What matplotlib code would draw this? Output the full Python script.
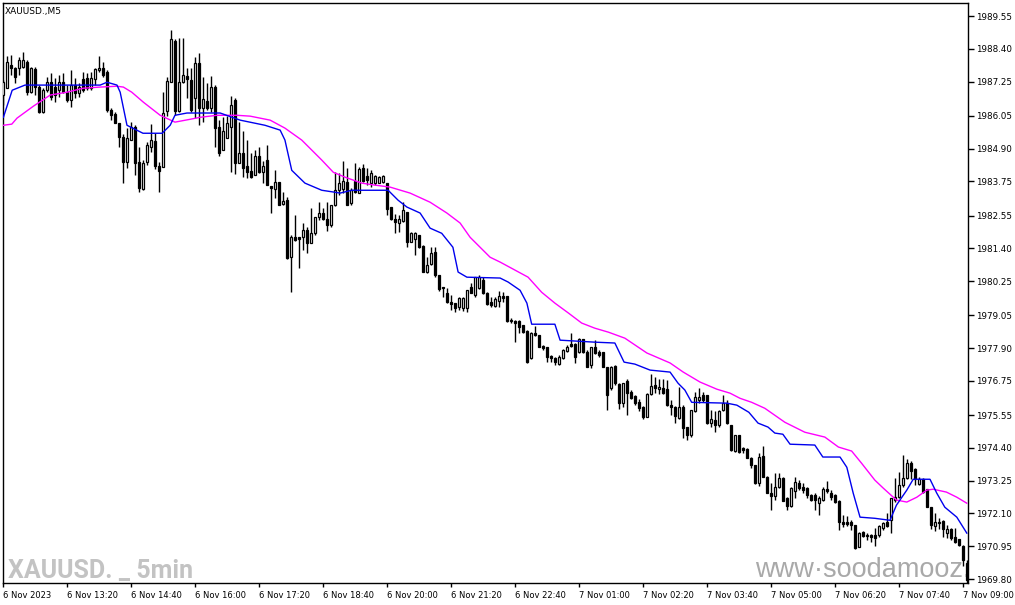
import numpy as np
import matplotlib
matplotlib.use('Agg')
import matplotlib.pyplot as plt

# XAUUSD M5 candles, 6 Nov 12:00 -> 7 Nov 09:05
opens = [1986.78, 1987.02, 1987.83, 1987.72, 1987.72, 1987.76, 1987.93, 1986.88, 1987.69, 1987.06,
         1986.18, 1986.95, 1987.23, 1987.06, 1986.95, 1987.23, 1986.88, 1986.60, 1987.13, 1986.85,
         1987.34, 1987.37, 1987.02, 1987.34, 1987.65, 1987.72, 1987.58, 1986.25, 1986.11, 1985.80,
         1985.30, 1984.43, 1985.20, 1985.65, 1984.43, 1983.48, 1984.43, 1984.95, 1985.16, 1984.29,
         1984.25, 1986.22, 1987.23, 1988.67, 1986.22, 1987.23, 1987.44, 1987.30, 1986.67, 1987.90,
         1986.32, 1986.57, 1986.32, 1987.06, 1985.65, 1984.85, 1985.27, 1985.65, 1986.60, 1984.39,
         1984.74, 1984.29, 1984.11, 1983.97, 1984.64, 1984.07, 1984.50, 1983.58, 1983.48, 1983.72,
         1982.95, 1983.09, 1981.09, 1981.79, 1981.79, 1981.79, 1982.04, 1981.58, 1981.93, 1982.50,
         1982.64, 1982.43, 1982.22, 1982.92, 1983.44, 1983.48, 1983.72, 1982.99, 1983.76, 1983.34,
         1984.21, 1983.93, 1983.69, 1983.69, 1983.69, 1983.72, 1983.69, 1982.85, 1982.43, 1982.29,
         1982.36, 1982.67, 1981.62, 1981.72, 1981.86, 1981.48, 1980.57, 1980.85, 1981.27, 1980.46,
         1980.04, 1979.83, 1979.51, 1979.48, 1979.34, 1979.30, 1979.30, 1980.04, 1979.76, 1980.01,
         1980.29, 1979.83, 1979.51, 1979.37, 1979.55, 1979.72, 1979.72, 1978.85, 1978.85, 1978.85,
         1978.71, 1978.50, 1977.55, 1978.43, 1978.36, 1977.97, 1977.94, 1977.62, 1977.55, 1977.34,
         1977.55, 1977.80, 1978.04, 1978.04, 1977.76, 1978.22, 1977.76, 1977.31, 1977.94, 1977.76,
         1977.76, 1977.24, 1976.50, 1977.27, 1976.64, 1975.97, 1976.74, 1976.36, 1976.22, 1976.00,
         1975.83, 1975.48, 1976.29, 1976.60, 1976.46, 1976.50, 1976.46, 1975.90, 1975.83, 1975.44,
         1975.83, 1975.13, 1974.85, 1975.69, 1976.07, 1976.25, 1976.25, 1975.27, 1975.37, 1975.20,
         1975.72, 1975.97, 1975.20, 1974.29, 1974.85, 1974.39, 1974.36, 1974.04, 1973.79, 1973.16,
         1974.11, 1973.37, 1972.81, 1972.71, 1973.02, 1973.34, 1972.64, 1972.36, 1972.88, 1973.16,
         1973.02, 1972.99, 1972.74, 1972.74, 1972.46, 1972.57, 1972.95, 1972.81, 1972.74, 1972.53,
         1971.79, 1971.79, 1971.79, 1971.69, 1970.92, 1971.44, 1971.34, 1971.34, 1971.34, 1971.34,
         1971.58, 1971.79, 1971.86, 1972.57, 1972.67, 1973.09, 1973.34, 1973.86, 1973.65, 1973.13,
         1973.30, 1972.95, 1972.32, 1971.65, 1971.79, 1971.83, 1971.41, 1971.55, 1971.27, 1971.20,
         1970.95, 1970.36]
highs = [1987.30, 1988.15, 1988.19, 1987.76, 1988.12, 1988.29, 1988.00, 1987.76, 1987.76, 1987.13,
         1987.02, 1987.41, 1987.55, 1987.37, 1987.48, 1987.55, 1987.13, 1987.65, 1987.37, 1987.20,
         1987.58, 1987.55, 1987.58, 1987.72, 1988.15, 1987.93, 1987.65, 1986.32, 1986.18, 1985.80,
         1985.41, 1985.62, 1985.83, 1985.72, 1984.95, 1984.50, 1985.13, 1985.76, 1985.44, 1984.43,
         1986.88, 1987.41, 1989.06, 1988.74, 1988.78, 1988.78, 1987.72, 1987.72, 1988.12, 1988.25,
         1987.41, 1987.20, 1987.44, 1987.13, 1985.90, 1986.00, 1986.04, 1986.74, 1986.67, 1985.83,
         1985.51, 1985.20, 1984.74, 1984.85, 1984.95, 1984.46, 1985.02, 1983.58, 1984.14, 1983.72,
         1983.37, 1983.20, 1981.86, 1982.57, 1981.79, 1982.29, 1982.15, 1982.81, 1982.50, 1983.02,
         1982.81, 1983.02, 1982.92, 1984.07, 1984.04, 1984.46, 1984.21, 1983.51, 1984.39, 1984.25,
         1984.36, 1984.21, 1984.14, 1983.97, 1983.93, 1983.97, 1983.69, 1982.85, 1982.60, 1982.57,
         1983.02, 1982.67, 1981.97, 1981.97, 1981.86, 1981.51, 1981.09, 1981.44, 1981.44, 1980.46,
         1980.04, 1980.01, 1979.76, 1979.48, 1979.69, 1979.69, 1979.93, 1980.18, 1980.39, 1980.46,
         1980.39, 1979.86, 1979.69, 1979.69, 1979.90, 1979.86, 1979.72, 1978.95, 1978.88, 1978.88,
         1978.71, 1978.53, 1978.46, 1978.67, 1978.36, 1978.01, 1977.94, 1977.66, 1977.59, 1977.66,
         1977.87, 1978.01, 1978.43, 1978.08, 1978.25, 1978.22, 1977.83, 1977.94, 1978.18, 1977.83,
         1977.76, 1977.24, 1977.27, 1977.31, 1976.67, 1976.67, 1976.81, 1976.43, 1976.25, 1976.11,
         1975.86, 1976.32, 1976.99, 1976.88, 1976.81, 1976.81, 1976.78, 1976.07, 1975.86, 1976.53,
         1975.90, 1975.13, 1975.72, 1976.36, 1976.50, 1976.36, 1976.25, 1975.72, 1975.69, 1975.72,
         1976.25, 1976.07, 1975.20, 1974.85, 1974.85, 1974.43, 1974.39, 1974.08, 1973.79, 1974.22,
         1974.46, 1973.41, 1973.16, 1973.51, 1973.51, 1973.37, 1972.67, 1973.02, 1973.37, 1973.27,
         1973.16, 1973.02, 1972.78, 1972.81, 1972.71, 1973.02, 1973.23, 1972.92, 1972.78, 1972.57,
         1972.04, 1972.00, 1971.86, 1971.69, 1971.44, 1971.48, 1971.41, 1971.37, 1971.58, 1971.69,
         1971.79, 1972.11, 1972.64, 1973.34, 1973.55, 1974.15, 1974.01, 1973.93, 1973.69, 1973.37,
         1973.34, 1972.95, 1972.32, 1972.11, 1971.93, 1971.86, 1971.69, 1971.58, 1971.58, 1971.20,
         1970.99, 1970.46]
lows = [1986.43, 1987.02, 1987.48, 1987.20, 1987.48, 1987.72, 1986.78, 1986.85, 1986.78, 1986.15,
        1986.15, 1986.88, 1986.60, 1986.53, 1986.71, 1986.85, 1986.53, 1986.36, 1986.67, 1986.71,
        1986.88, 1986.95, 1986.95, 1987.13, 1987.58, 1987.41, 1986.18, 1985.90, 1985.80, 1984.95,
        1983.69, 1984.22, 1985.20, 1983.97, 1983.37, 1983.44, 1984.32, 1984.78, 1984.18, 1983.37,
        1984.25, 1986.04, 1987.23, 1986.07, 1986.18, 1987.20, 1986.67, 1986.18, 1985.97, 1985.72,
        1985.83, 1986.25, 1986.18, 1984.95, 1984.64, 1984.85, 1985.27, 1984.07, 1984.00, 1984.39,
        1983.90, 1983.86, 1983.86, 1983.97, 1984.04, 1983.69, 1983.62, 1982.64, 1983.16, 1982.92,
        1982.92, 1981.02, 1979.86, 1981.65, 1980.71, 1981.34, 1981.23, 1981.58, 1981.86, 1982.39,
        1982.39, 1982.00, 1982.15, 1982.88, 1983.27, 1983.34, 1982.92, 1982.92, 1983.34, 1983.34,
        1983.72, 1983.62, 1983.55, 1983.62, 1983.69, 1983.69, 1982.57, 1982.39, 1981.93, 1981.97,
        1982.32, 1981.44, 1981.62, 1981.16, 1981.41, 1980.57, 1980.53, 1980.81, 1980.39, 1979.90,
        1979.69, 1979.48, 1979.23, 1979.16, 1979.23, 1979.20, 1979.16, 1979.83, 1979.69, 1979.97,
        1979.79, 1979.41, 1979.34, 1979.34, 1979.34, 1979.51, 1978.81, 1978.78, 1978.11, 1978.43,
        1978.43, 1977.38, 1977.52, 1978.32, 1977.94, 1977.83, 1977.41, 1977.41, 1977.31, 1977.31,
        1977.52, 1977.76, 1977.94, 1977.38, 1977.73, 1977.73, 1977.24, 1977.20, 1977.69, 1977.59,
        1977.24, 1975.72, 1976.43, 1976.60, 1975.76, 1975.83, 1975.55, 1976.11, 1975.90, 1975.69,
        1975.41, 1975.48, 1976.25, 1976.32, 1976.29, 1976.29, 1975.86, 1975.55, 1975.27, 1975.41,
        1974.74, 1974.67, 1974.78, 1975.65, 1975.97, 1976.00, 1975.23, 1975.13, 1974.95, 1975.13,
        1975.69, 1975.23, 1974.29, 1974.25, 1974.22, 1974.22, 1974.04, 1973.69, 1973.13, 1973.06,
        1973.37, 1972.81, 1972.21, 1972.57, 1972.99, 1972.53, 1972.21, 1972.32, 1972.64, 1972.92,
        1972.81, 1972.64, 1972.53, 1972.21, 1972.04, 1972.53, 1972.81, 1972.57, 1972.46, 1971.51,
        1971.62, 1971.65, 1971.51, 1970.85, 1970.92, 1971.27, 1971.16, 1971.09, 1970.95, 1971.27,
        1971.51, 1971.62, 1971.41, 1972.50, 1972.64, 1973.02, 1973.30, 1973.30, 1973.09, 1973.09,
        1972.81, 1972.32, 1971.55, 1971.48, 1971.55, 1971.27, 1971.23, 1971.16, 1971.05, 1970.95,
        1970.25, 1969.66]
closes = [1987.23, 1987.93, 1987.72, 1987.41, 1988.00, 1988.00, 1986.88, 1987.72, 1987.06, 1986.18,
          1986.95, 1987.23, 1986.71, 1986.78, 1987.23, 1986.88, 1986.60, 1987.13, 1986.85, 1987.06,
          1986.95, 1987.02, 1987.37, 1987.69, 1987.72, 1987.48, 1986.25, 1986.07, 1985.80, 1985.30,
          1984.43, 1985.27, 1985.65, 1984.39, 1983.51, 1984.39, 1985.02, 1985.20, 1984.29, 1984.11,
          1986.15, 1987.27, 1988.74, 1986.22, 1987.23, 1987.48, 1987.34, 1986.25, 1987.90, 1986.32,
          1986.64, 1986.32, 1987.06, 1985.62, 1984.74, 1985.51, 1985.80, 1986.43, 1984.39, 1984.74,
          1984.22, 1984.07, 1983.90, 1984.64, 1984.07, 1984.29, 1983.62, 1983.51, 1983.72, 1982.92,
          1983.06, 1981.06, 1981.79, 1981.69, 1981.72, 1982.04, 1981.58, 1981.93, 1982.50, 1982.64,
          1982.43, 1982.22, 1982.92, 1983.44, 1983.69, 1983.76, 1982.92, 1983.44, 1983.37, 1984.18,
          1983.76, 1983.79, 1984.04, 1983.93, 1983.90, 1983.93, 1982.78, 1982.43, 1982.32, 1982.43,
          1982.74, 1981.62, 1981.93, 1981.93, 1981.44, 1980.57, 1980.81, 1981.23, 1980.46, 1979.97,
          1980.01, 1979.51, 1979.44, 1979.30, 1979.65, 1979.65, 1979.93, 1979.83, 1980.39, 1980.39,
          1979.83, 1979.44, 1979.41, 1979.62, 1979.72, 1979.65, 1978.85, 1978.88, 1978.78, 1978.64,
          1978.46, 1977.41, 1978.43, 1978.36, 1977.94, 1977.90, 1977.59, 1977.55, 1977.41, 1977.59,
          1977.83, 1977.94, 1977.97, 1977.59, 1978.22, 1977.76, 1977.24, 1977.94, 1977.73, 1977.66,
          1977.24, 1976.25, 1977.24, 1976.67, 1975.97, 1976.67, 1976.32, 1976.14, 1975.97, 1975.79,
          1975.48, 1976.29, 1976.57, 1976.50, 1976.53, 1976.32, 1975.90, 1975.83, 1975.51, 1975.83,
          1975.09, 1974.85, 1975.72, 1976.18, 1976.18, 1976.07, 1975.27, 1975.41, 1975.20, 1975.69,
          1975.97, 1975.27, 1974.32, 1974.85, 1974.25, 1974.32, 1974.04, 1973.79, 1973.16, 1974.08,
          1973.37, 1972.81, 1972.71, 1973.02, 1973.34, 1972.53, 1972.36, 1972.99, 1973.20, 1972.99,
          1972.92, 1972.74, 1972.57, 1972.57, 1972.64, 1972.95, 1972.88, 1972.67, 1972.50, 1971.79,
          1971.72, 1971.72, 1971.69, 1970.88, 1971.41, 1971.30, 1971.30, 1971.27, 1971.23, 1971.65,
          1971.76, 1971.65, 1972.64, 1972.67, 1973.09, 1973.34, 1973.86, 1973.58, 1973.30, 1973.30,
          1972.85, 1972.32, 1971.69, 1971.79, 1971.76, 1971.55, 1971.55, 1971.23, 1971.09, 1970.99,
          1970.46, 1969.76]

# moving average lines (bar index, price) read at their bends
fast_x = [0, 2.2, 5.4, 24.2, 25.9, 28.4, 29.2, 30.9, 34.9, 39.7, 41.7, 42.9, 45.9, 54.2, 59.2,
          65.4, 69.2, 70.4, 72.1, 75.4, 79.6, 82.9, 84.2, 87.1, 96.2, 98.7, 100.9, 104.2, 106.7,
          109.6, 112.4, 113.7, 115.9, 124.2, 126.2, 129.2, 130.9, 132.1, 137.9, 139.2, 147.9, 152.9,
          155.2, 157.9, 161.7, 166.7, 168.7, 170.4, 172.1, 180.9, 183.4, 186.4, 188.7, 191.2, 192.9,
          194.9, 196.7, 202.9, 204.9, 209.2, 210.9, 212.5, 214.2, 217.9, 221.7, 223.3, 225.9, 227.5,
          231.7, 233.4, 235.4, 238.4, 240.9]
fast_y = [1986.00, 1986.95, 1987.13, 1987.13, 1987.23, 1987.13, 1986.88, 1985.72, 1985.44, 1985.44,
          1985.72, 1986.07, 1986.15, 1986.15, 1985.90, 1985.72, 1985.55, 1985.20, 1984.14, 1983.69,
          1983.44, 1983.37, 1983.34, 1983.44, 1983.44, 1983.09, 1982.85, 1982.64, 1982.11, 1981.93,
          1981.44, 1980.57, 1980.39, 1980.36, 1980.22, 1979.93, 1979.48, 1978.74, 1978.74, 1978.18,
          1978.11, 1978.08, 1977.41, 1977.34, 1977.13, 1977.06, 1976.67, 1976.43, 1976.00, 1975.97,
          1975.90, 1975.65, 1975.27, 1975.13, 1974.92, 1974.88, 1974.53, 1974.50, 1974.08, 1974.08,
          1973.72, 1972.81, 1971.97, 1971.93, 1971.86, 1972.39, 1972.92, 1973.30, 1973.30, 1972.81,
          1972.32, 1971.97, 1971.41]
slow_x = [0, 2.1, 3.4, 7.5, 11.7, 15.9, 20.0, 24.2, 28.4, 30.0, 32.1, 35.0, 39.2, 42.9, 46.7,
          49.2, 53.4, 58.4, 61.7, 66.7, 70.4, 74.6, 79.6, 82.5, 85.4, 89.6, 92.9, 96.7, 101.7,
          106.7, 110.9, 114.2, 116.7, 119.2, 121.7, 124.2, 127.9, 131.2, 134.6, 137.9, 141.3, 144.6,
          147.9, 151.3, 155.4, 160.9, 166.7, 170.0, 174.2, 178.4, 181.7, 184.2, 187.1, 190.4, 195.4,
          200.4, 205.4, 208.8, 212.1, 214.6, 217.9, 220.0, 223.3, 225.9, 228.4, 230.9, 232.5, 235.8,
          238.4, 240.9]
slow_y = [1985.72, 1985.76, 1985.97, 1986.39, 1986.78, 1986.88, 1987.02, 1987.06, 1987.09, 1987.06,
          1986.88, 1986.53, 1986.07, 1985.83, 1985.93, 1986.00, 1986.07, 1986.07, 1986.04, 1985.90,
          1985.62, 1985.20, 1984.50, 1984.07, 1983.90, 1983.69, 1983.62, 1983.55, 1983.34, 1983.02,
          1982.64, 1982.29, 1981.79, 1981.44, 1981.09, 1980.92, 1980.64, 1980.39, 1979.86, 1979.48,
          1979.13, 1978.78, 1978.60, 1978.46, 1978.25, 1977.73, 1977.38, 1977.06, 1976.71, 1976.46,
          1976.32, 1976.14, 1976.00, 1975.79, 1975.30, 1974.95, 1974.78, 1974.43, 1974.29, 1973.86,
          1973.27, 1972.99, 1972.57, 1972.50, 1972.67, 1972.92, 1972.95, 1972.85, 1972.67, 1972.46]

price_ticks = [1989.55, 1988.40, 1987.25, 1986.05, 1984.90, 1983.75, 1982.55, 1981.40, 1980.25,
               1979.05, 1977.90, 1976.75, 1975.55, 1974.40, 1973.25, 1972.10, 1970.95, 1969.80]
time_labels = ['6 Nov 2023', '6 Nov 13:20', '6 Nov 14:40', '6 Nov 16:00', '6 Nov 17:20',
               '6 Nov 18:40', '6 Nov 20:00', '6 Nov 21:20', '6 Nov 22:40', '7 Nov 01:00',
               '7 Nov 02:20', '7 Nov 03:40', '7 Nov 05:00', '7 Nov 06:20', '7 Nov 07:40',
               '7 Nov 09:00']

o = np.array(opens)
h = np.array(highs)
l = np.array(lows)
c = np.array(closes)
idx = np.arange(len(o))

fig = plt.figure(figsize=(10.15, 6.05), dpi=100)
ax = fig.add_axes([3 / 1015, 22 / 605, 965 / 1015, 580 / 605])

ax.vlines(idx, l, h, color='black', lw=1, zorder=2)
bull = c >= o
body_lo = np.minimum(o, c)
body_h = np.maximum(np.abs(c - o), 0.015)
ax.bar(idx, body_h, bottom=body_lo, width=0.5,
       color=np.where(bull, 'white', 'black'), edgecolor='black', lw=0.9, zorder=3)

ax.plot(slow_x, slow_y, color='#ff00ff', lw=1, zorder=4)
ax.plot(fast_x, fast_y, color='#0000ee', lw=1, zorder=4)

ax.set_xlim(-0.1, 241.2)
ax.set_ylim(1969.66, 1990.01)

ax.yaxis.tick_right()
ax.set_yticks(price_ticks)
ax.set_yticklabels([f'{p:.2f}' for p in price_ticks])
ax.set_xticks(np.arange(0, 241, 16))
ax.set_xticklabels(time_labels, ha='left')
ax.tick_params(axis='both', direction='out', length=4, width=1, labelsize=6.3,
               colors='black', pad=2)
ax.tick_params(axis='x', length=3, pad=3, labelsize=6.0)
for s in ax.spines.values():
    s.set_linewidth(1)
    s.set_color('black')

ax.text(0.002, 0.993, 'XAUUSD.,M5', transform=ax.transAxes, fontsize=6.5,
        ha='left', va='top')
ax.text(0.005, 0.009, 'XAUUSD. _ 5min', transform=ax.transAxes, fontsize=18,
        family=['Roboto', 'DejaVu Sans'], weight='bold', color='#c3c3c3',
        ha='left', va='baseline', zorder=1)
ax.text(0.779, 0.011, 'www\u00b7soodamooz.com', transform=ax.transAxes, fontsize=19.5,
        family='Liberation Sans', color='#a9a9a9', ha='left', va='baseline',
        zorder=1, clip_on=True)

fig.savefig('out.png', dpi=100)
